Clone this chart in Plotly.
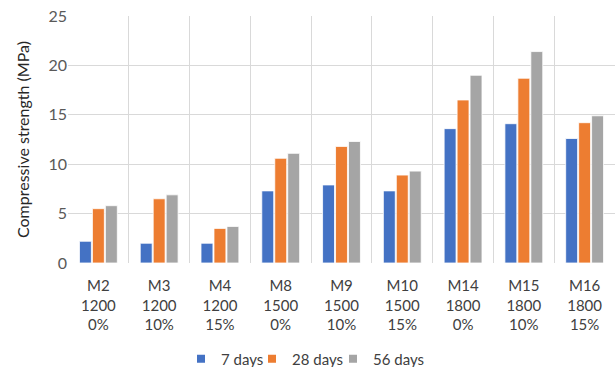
import plotly.graph_objects as go

categories = ["M2<br>1200<br>0%", "M3<br>1200<br>10%", "M4<br>1200<br>15%",
              "M8<br>1500<br>0%", "M9<br>1500<br>10%", "M10<br>1500<br>15%",
              "M14<br>1800<br>0%", "M15<br>1800<br>10%", "M16<br>1800<br>15%"]
days_7 = [2.2, 2.0, 2.0, 7.3, 7.9, 7.3, 13.6, 14.1, 12.6]
days_28 = [5.5, 6.5, 3.5, 10.6, 11.8, 8.9, 16.5, 18.7, 14.2]
days_56 = [5.8, 6.9, 3.7, 11.1, 12.3, 9.3, 19.0, 21.4, 14.9]

series = [("7 days", days_7, "#4472C4"),
          ("28 days", days_28, "#ED7D31"),
          ("56 days", days_56, "#A5A5A5")]

font_family = "Lato, Open Sans, sans-serif"
W, H = 616, 367

fig = go.Figure()
for name, vals, color in series:
    fig.add_trace(go.Bar(
        x=categories, y=vals, name=name, showlegend=False,
        marker=dict(color=color, line=dict(color="white", width=0.8)),
    ))

# one small square key per series, each in its own legend box along the bottom
legend_ids = ["legend", "legend2", "legend3"]
legend_lefts = [181, 252, 333]
for (name, vals, color), lid in zip(series, legend_ids):
    fig.add_trace(go.Scatter(
        x=[None], y=[None], mode="markers", name=name, legend=lid,
        marker=dict(symbol="square", size=8, color=color),
    ))

legend_style = dict(orientation="h", xanchor="left", xref="container",
                    y=1 - 359 / H, yanchor="middle", yref="container",
                    font=dict(size=15, color="#404040"), itemwidth=30,
                    bgcolor="rgba(0,0,0,0)")
fig.update_layout(
    width=W, height=H,
    margin=dict(l=68, r=1, t=16, b=104),
    paper_bgcolor="white", plot_bgcolor="white",
    barmode="group", bargap=0.36, bargroupgap=0.08,
    font=dict(family=font_family, size=15, color="#595959"),
    showlegend=True,
    **{lid: dict(x=lx / W, **legend_style) for lid, lx in zip(legend_ids, legend_lefts)},
)
fig.update_xaxes(
    type="category", tickson="boundaries", showgrid=True,
    gridcolor="#D9D9D9", gridwidth=1,
    showline=False, ticks="", zeroline=False, automargin=False,
    ticklabelstandoff=12,
    tickfont=dict(size=15, color="#404040"),
)
fig.update_yaxes(
    range=[0, 25], dtick=5, showgrid=True, gridcolor="#D9D9D9", gridwidth=1,
    zeroline=False, showline=False, ticks="", automargin=False,
    tickfont=dict(size=16, color="#595959"),
    title=dict(text="Compressive strength (MPa)", font=dict(size=16, color="#262626"),
               standoff=14),
)

fig.write_html("out.html")
